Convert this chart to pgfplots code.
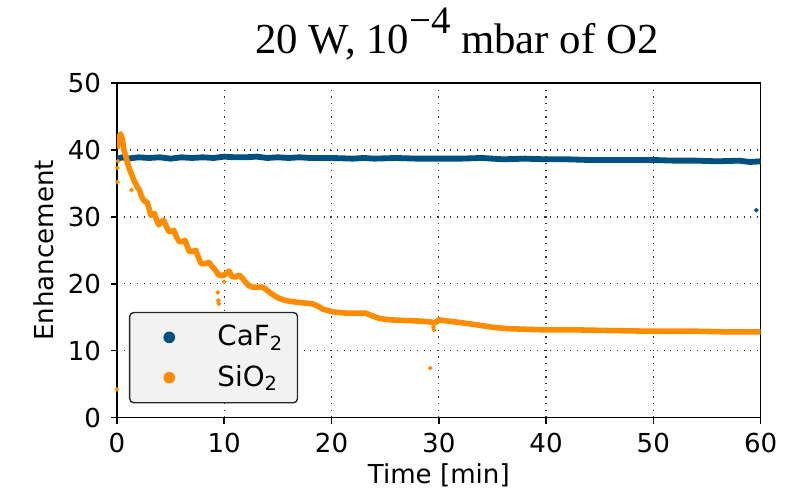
\documentclass[border=0pt]{standalone}
\usepackage{fontspec}
\setmainfont{DejaVu Sans}
\newfontfamily\titlefont{Liberation Serif}
\usepackage{pgfplots}
\pgfplotsset{compat=1.18}
\usetikzlibrary{calc}

\definecolor{cafblue}{HTML}{00507F}
\definecolor{sioorange}{HTML}{FF8C00}

\begin{document}
\begin{tikzpicture}
\begin{axis}[
    scale only axis,
    width=231.7pt, height=120.4pt,
    xmin=0, xmax=60, ymin=0, ymax=50,
    xtick={0,10,...,60}, ytick={0,10,...,50},
    grid=major,
    grid style={black!80, dotted, line width=0.5pt},
    tick align=outside, tick pos=left,
    major tick length=2.2pt,
    axis line style={line width=0.6pt},
    every tick/.style={black, line width=0.6pt},
    /pgf/number format/assume math mode=true,
    tick label style={font=\fontsize{9.4}{11}\selectfont},
    xlabel={Time [min]}, ylabel={Enhancement},
    label style={font=\fontsize{9.4}{11}\selectfont},
    xlabel style={at={(axis description cs:0.5,-0.198)}, anchor=base},
    ylabel style={at={(axis description cs:-0.098,0.5)}, anchor=base, rotate=0},
    legend style={at={(axis description cs:0.0187,0.042)}, anchor=south west,
        draw=black!85, fill=black!5, rounded corners=1.5pt, line width=0.5pt,
        font=\fontsize{10}{12}\selectfont, column sep=4pt, row sep=1.5pt,
        inner ysep=2.5pt},
    legend cell align=left,
    legend image code/.code={\fill[#1, draw=none] (10.2pt,0pt) circle (2.1pt); \path (0pt,0pt) (20.5pt,0pt);},
]
% CaF2 main band
\addplot[cafblue, line width=2.1pt, line join=round] coordinates {
(0,38.7)(0.5,38.9)(1,38.7)(2,38.9)(3,38.8)(4,38.9)(5,38.7)(6,38.9)(7,38.8)(8,38.9)
(9,38.8)(10,39.0)(11,38.9)(12,38.9)(13,39.0)(14,38.8)(15,38.9)(16,38.8)(17,38.9)(18,38.8)
(19,38.8)(20,38.8)(22,38.7)(23,38.8)(24,38.7)(26,38.8)(28,38.7)(30,38.7)(32,38.7)(34,38.8)
(36,38.6)(38,38.7)(40,38.6)(42,38.6)(44,38.5)(46,38.5)(48,38.5)(50,38.5)(52,38.4)(54,38.4)
(56,38.3)(58,38.4)(59,38.2)(60,38.3)};
\addlegendentry{CaF\textsubscript{2}}
% SiO2 main band
\addplot[sioorange, line width=2pt, line join=round] coordinates {
(0,40.2)(0.1,41.5)(0.2,42.0)(0.35,42.4)(0.5,41.6)(0.65,40.0)(0.8,39.2)(1.0,38.0)(1.15,37.2)(1.3,36.6)
(1.45,36.0)(1.6,35.4)(1.8,34.8)(1.95,34.3)(2.1,34.0)(2.25,33.3)(2.4,32.7)(2.6,32.3)(2.8,32.2)(3.0,31.2)
(3.15,30.3)(3.3,30.3)(3.5,30.5)(3.7,29.5)(3.9,28.8)(4.1,29.2)(4.35,29.5)(4.6,28.6)(4.85,27.8)(5.1,27.8)
(5.3,28.0)(5.55,27.0)(5.8,26.3)(6.1,26.3)(6.35,26.5)(6.55,25.6)(6.75,24.8)(7.0,24.8)(7.35,25.0)(7.6,23.9)
(7.85,23.0)(8.2,23.0)(8.6,23.2)(8.85,22.6)(9.1,22.2)(9.5,21.3)(9.8,21.2)(10.15,21.5)(10.45,21.9)(10.7,21.1)
(11.0,21.0)(11.4,21.3)(11.7,20.8)(12.0,20.2)(12.3,19.7)(12.65,19.5)(13.2,19.5)(13.6,19.5)(14.0,19.0)(14.5,18.4)
(15.0,17.9)(15.5,17.6)(16.0,17.4)(17.0,17.2)(18.25,17.0)(18.8,16.6)(19.2,16.2)(20.1,15.8)(21.4,15.6)(22.5,15.6)
(23.2,15.6)(23.8,15.2)(24.5,14.8)(25.5,14.6)(27,14.5)(28.5,14.4)(29.2,14.3)(29.6,14.1)(30.0,14.6)(31.0,14.4)
(32,14.2)(33.8,13.8)(35,13.5)(36.3,13.3)(38,13.2)(40,13.1)(43,13.1)(46,13.0)(50,12.9)(54,12.9)
(57,12.8)(60,12.8)};
\addlegendentry{SiO\textsubscript{2}}
% stray points
\addplot[only marks, mark=*, mark size=0.6pt, color=cafblue, forget plot] coordinates {(59.6,31.0)};
\addplot[only marks, mark=*, mark size=0.6pt, color=sioorange, forget plot] coordinates {
(0,4.2)(0.05,35.2)(0.05,37.3)(0.1,38.3)(1.35,34.0)(9.4,18.7)(9.45,17.5)(9.5,17.0)
(10.0,20.3)(29.2,7.4)(29.5,13.5)(29.55,13.1)};
\end{axis}
\node[anchor=base, yshift=10.8pt, font=\titlefont\fontsize{15.4}{17}\selectfont]
    at ($(current axis.north west)!0.528!(current axis.north east)$)
    {20 W, 10\raisebox{7.2pt}{\fontsize{14}{14}\selectfont −4} mbar of O2};
\pgfresetboundingbox
\path ($(current axis.south west)+(-42.1pt,-25.7pt)$) rectangle ($(current axis.north east)+(14.9pt,29.9pt)$);
\end{tikzpicture}
\end{document}
